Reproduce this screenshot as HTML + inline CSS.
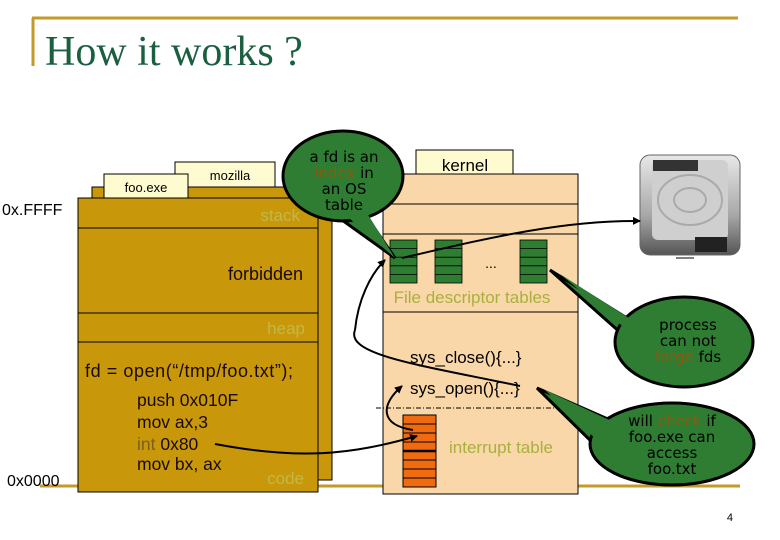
<!DOCTYPE html>
<html><head><style>
body{margin:0;background:#fff;}
svg{display:block;font-family:"Liberation Sans",sans-serif;}
</style></head><body>
<svg width="780" height="540" viewBox="0 0 780 540" xmlns="http://www.w3.org/2000/svg">
<defs>
<marker id="ah" markerWidth="8" markerHeight="8" refX="7" refY="4" orient="auto" markerUnits="userSpaceOnUse"><path d="M0,0 L8,4 L0,8 z" fill="#000"/></marker>
<linearGradient id="dg" x1="0" y1="0" x2="0" y2="1"><stop offset="0" stop-color="#e8e8e8"/><stop offset="0.6" stop-color="#a8a8a8"/><stop offset="1" stop-color="#555"/></linearGradient>
</defs>
<line x1="32" y1="18" x2="738" y2="18" stroke="#c49a2a" stroke-width="3"/>
<line x1="33" y1="18" x2="33" y2="66" stroke="#c49a2a" stroke-width="3"/>
<text x="45" y="65" font-family="Liberation Serif,serif" font-size="42" fill="#1a6040">How it works ?</text>
<line x1="40" y1="486" x2="740" y2="486" stroke="#c49a2a" stroke-width="3"/>
<text x="2" y="215" font-size="16">0x.FFFF</text>
<text x="7" y="486" font-size="16">0x0000</text>
<rect x="175" y="162" width="100" height="26" fill="#fffbd0" stroke="#000"/>
<text x="230" y="180" font-size="13" text-anchor="middle">mozilla</text>
<rect x="92" y="187" width="240" height="293" fill="#c8980a" stroke="#000"/>
<rect x="104" y="174" width="84" height="24" fill="#fffbd0" stroke="#000"/>
<text x="146" y="192" font-size="13" text-anchor="middle">foo.exe</text>
<rect x="78" y="198" width="240" height="294" fill="#c8980a" stroke="#000"/>
<line x1="78" y1="228" x2="318" y2="228" stroke="#000"/>
<line x1="78" y1="313" x2="318" y2="313" stroke="#000"/>
<line x1="78" y1="342" x2="318" y2="342" stroke="#000"/>
<text x="300" y="221" font-size="17" fill="#c0b84a" text-anchor="end">stack</text>
<text x="303" y="280" font-size="18" fill="#1a0a00" text-anchor="end">forbidden</text>
<text x="305" y="334" font-size="17" fill="#c0b84a" text-anchor="end">heap</text>
<text x="85" y="377" font-size="18" fill="#1a0a00" textLength="208">fd = open(“/tmp/foo.txt”);</text>
<g font-size="17.5" fill="#1a0a00">
<text x="137" y="406">push 0x010F</text>
<text x="137" y="428">mov ax,3</text>
<text x="137" y="450"><tspan fill="#7a6020">int</tspan> 0x80</text>
<text x="137" y="470">mov bx, ax</text>
</g>
<text x="304" y="484" font-size="17" fill="#c0b84a" text-anchor="end">code</text>
<rect x="416" y="150" width="97" height="25" fill="#fffbd0" stroke="#000"/>
<text x="465" y="171" font-size="17" text-anchor="middle">kernel</text>
<rect x="383" y="174" width="195" height="320" fill="#fad7a8" stroke="#000"/>
<line x1="383" y1="204" x2="578" y2="204" stroke="#000"/>
<line x1="383" y1="234" x2="578" y2="234" stroke="#000"/>
<line x1="383" y1="312" x2="578" y2="312" stroke="#000"/>
<line x1="376" y1="408" x2="582" y2="408" stroke="#000" stroke-dasharray="5,2,1,2"/>
<g fill="#2e7d32" stroke="#000" stroke-width="0.8">
<rect x="390" y="240" width="27" height="43"/><rect x="435" y="240" width="27" height="43"/><rect x="520" y="240" width="27" height="43"/>
</g>
<path d="M390 248.6h27M390 257.2h27M390 265.8h27M390 274.4h27M435 248.6h27M435 257.2h27M435 265.8h27M435 274.4h27M520 248.6h27M520 257.2h27M520 265.8h27M520 274.4h27" stroke="#000" stroke-width="0.8"/>
<text x="491" y="268" font-size="14" text-anchor="middle">...</text>
<text x="472" y="303" font-size="17" fill="#a8b040" text-anchor="middle">File descriptor tables</text>
<text x="410" y="363" font-size="17">sys_close(){...}</text>
<text x="410" y="394" font-size="17">sys_open(){...}</text>
<rect x="403" y="415" width="33" height="72" fill="#f06a10" stroke="#000"/>
<path d="M403 424h33M403 433h33M403 442h33M403 460h33M403 469h33M403 478h33" stroke="#000"/>
<line x1="403" y1="451" x2="436" y2="451" stroke="#000" stroke-width="2.5"/>
<text x="449" y="453" font-size="17" fill="#a8b040">interrupt table</text>
<rect x="640" y="155" width="100" height="100" rx="10" fill="url(#dg)" stroke="#666"/>
<rect x="652" y="160" width="76" height="80" rx="6" fill="#cfcfcf"/>
<rect x="653" y="160" width="45" height="11" fill="#333"/>
<ellipse cx="690" cy="200" rx="32" ry="25" fill="none" stroke="#aaa" stroke-width="2"/>
<ellipse cx="690" cy="200" rx="16" ry="12" fill="none" stroke="#aaa" stroke-width="2"/>
<rect x="695" y="237" width="32" height="15" fill="#222"/>
<line x1="676" y1="258" x2="694" y2="258" stroke="#000"/>
<g fill="none" stroke="#000" stroke-width="2">
<path d="M402 258 C480 240 560 220 640 221" marker-end="url(#ah)"/>
<path d="M355 330 C358 300 370 275 385 260" marker-end="url(#ah)"/>
<path d="M355 330 C345 355 420 365 520 386"/>
<path d="M215 444 C300 460 350 455 417 436" marker-end="url(#ah)"/>
<path d="M413 430 C380 425 380 405 402 386" marker-end="url(#ah)"/>
</g>
<g fill="#2e7d32" stroke="#000" stroke-width="3">
<path d="M328 210 L395 258 L362 210 Z"/>
<ellipse cx="343" cy="176" rx="60" ry="45"/>
<path d="M550 270 L630 320 L640 350 Z"/>
<ellipse cx="684" cy="342" rx="69" ry="45"/>
<path d="M537 388 L610 420 L600 450 Z"/>
<ellipse cx="672" cy="444" rx="82" ry="41"/>
</g>
<g fill="#2e7d32"><path d="M334 205 L395 258 L362 205 Z"/><path d="M560 274 L635 322 L645 345 Z"/><path d="M545 390 L620 425 L605 448 Z"/></g>
<g font-family="DejaVu Sans,sans-serif" font-size="15" text-anchor="middle" fill="#000">
<text x="344" y="162">a fd is an</text>
<text x="344" y="178"><tspan fill="#8a5a10">index</tspan> in</text>
<text x="344" y="194">an OS</text>
<text x="344" y="210">table</text>
<text x="688" y="330">process</text>
<text x="688" y="346">can not</text>
<text x="688" y="362"><tspan fill="#8a5a10">forge</tspan> fds</text>
<text x="672" y="426">will <tspan fill="#8a5a10">check</tspan> if</text>
<text x="672" y="442">foo.exe can</text>
<text x="672" y="458">access</text>
<text x="672" y="474">foo.txt</text>
</g>
<text x="733" y="521" font-size="11" text-anchor="end">4</text>
</svg>
</body></html>
